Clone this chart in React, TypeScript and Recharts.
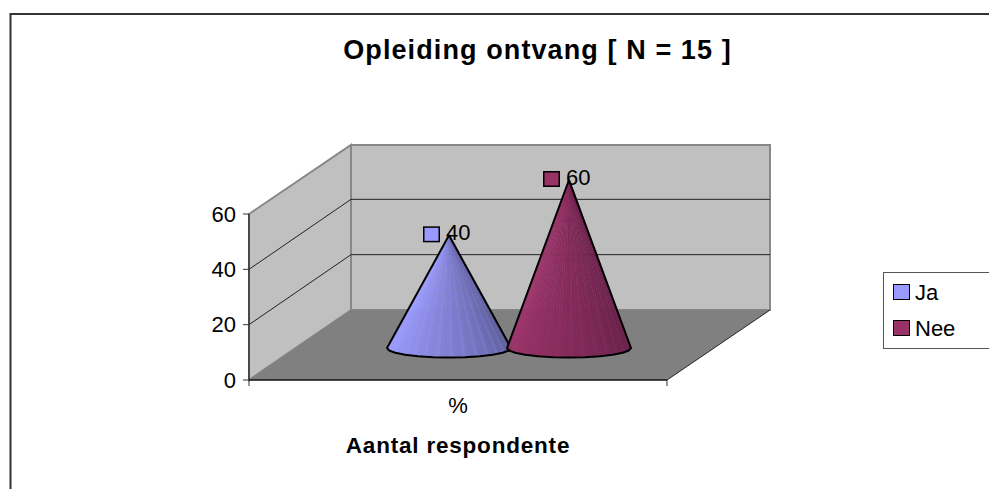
import { Bar, BarChart, CartesianGrid, LabelList, Legend, XAxis, YAxis } from "recharts";

const categories = ["%"];
const jaValues = [40];
const neeValues = [60];
const yTicks = [0, 20, 40, 60];
const seriesNames = ["Ja", "Nee"];

const chartData = categories.map((name, i) => ({
  name,
  Ja: jaValues[i],
  Nee: neeValues[i],
}));

const FONT = "'Liberation Sans', Arial, sans-serif";
const LEFT = 249;
const RIGHT = 667;
const TOP = 214;
const FLOOR = 380;
const DX = 102;
const DY = 70;

const BLUE = { key: [156, 156, 255], dark: [88, 88, 148] };
const RED = { key: [156, 52, 106], dark: [98, 30, 70] };

function mix(a: number[], b: number[], t: number) {
  const c = a.map((v, i) => Math.round(v + (b[i] - v) * t));
  return `rgb(${c[0]},${c[1]},${c[2]})`;
}

// cone sits half way into the box depth, drawn as a fan of thin slices
function Cone(props: any) {
  const { x, y, width, height, palette } = props;
  const cx = x + width / 2 + DX / 2;
  const apexY = y - DY / 2 + 1;
  const baseY = y + height - DY / 2 + 3;
  const rx = width / 2 + 2;
  const ry = 9.5;
  const steps = 44;
  const slices = [];
  for (let i = 0; i < steps; i++) {
    const a0 = Math.PI - (i / steps) * Math.PI;
    const a1 = Math.PI - ((i + 1) / steps) * Math.PI;
    const p0 = `${cx + rx * Math.cos(a0)},${baseY + ry * Math.sin(a0)}`;
    const p1 = `${cx + rx * Math.cos(a1)},${baseY + ry * Math.sin(a1)}`;
    const t = Math.max(0, (i / steps - 0.12) / 0.88);
    // every third slice a bit lighter, the faceted ribs of the 3D cone
    const color = i % 3 === 1 ? mix(palette.key, palette.dark, t * 0.85) : mix(palette.key, palette.dark, t);
    slices.push(
      <polygon key={i} points={`${cx},${apexY} ${p0} ${p1}`} fill={color} stroke={color} strokeWidth={0.5} />
    );
  }
  // the base edge is coarse in the original, so use few segments
  const edge = [];
  const edgeSteps = 12;
  for (let i = 0; i <= edgeSteps; i++) {
    const a = Math.PI - (i / edgeSteps) * Math.PI;
    edge.push(`${cx + rx * Math.cos(a)},${baseY + ry * Math.sin(a)}`);
  }
  return (
    <g>
      {slices}
      <polygon points={`${cx},${apexY} ${edge.join(" ")}`} fill="none" stroke="#000" strokeWidth={2} strokeLinejoin="round" />
    </g>
  );
}

function ConeLabel(props: any) {
  const { x, y, width, value, fill } = props;
  const cx = x + width / 2 + DX / 2;
  const apexY = y - DY / 2 + 1;
  return (
    <g>
      <rect x={cx - 25.25} y={apexY - 8.25} width={15.5} height={14.5} fill={fill} stroke="#000" strokeWidth={1.5} />
      <text x={cx - 3} y={apexY + 5} fontSize={22} fontFamily={FONT} fill="#000">
        {value}
      </text>
    </g>
  );
}

// only the 20 and 40 lines show, 0 and 60 sit on the box edges
function WallGridLine(props: any) {
  const { x1, x2, y1 } = props;
  if (Math.abs(y1 - FLOOR) < 1 || Math.abs(y1 - TOP) < 1) return <g />;
  return (
    <polyline
      points={`${x1},${y1} ${x1 + DX},${y1 - DY} ${x2 + DX + 1},${y1 - DY}`}
      fill="none"
      stroke="#222"
      strokeWidth={1}
    />
  );
}

function ChartBox() {
  return (
    <g>
      <polyline points="10.5,489 10.5,14 989,14" fill="none" stroke="#333" strokeWidth={2} />
      <polygon
        points={`${LEFT + DX},${TOP - DY + 1} ${RIGHT + DX + 1},${TOP - DY + 1} ${RIGHT + DX + 1},${FLOOR - DY} ${LEFT + DX},${FLOOR - DY}`}
        fill="#c0c0c0"
        stroke="#888"
        strokeWidth={2}
      />
      <polygon
        points={`${LEFT},${TOP} ${LEFT + DX},${TOP - DY + 1} ${LEFT + DX},${FLOOR - DY} ${LEFT},${FLOOR}`}
        fill="#c0c0c0"
        stroke="#888"
        strokeWidth={2}
      />
      <polygon
        points={`${LEFT},${FLOOR} ${RIGHT},${FLOOR} ${RIGHT + DX + 1},${FLOOR - DY} ${LEFT + DX},${FLOOR - DY}`}
        fill="#808080"
      />
      <line x1={RIGHT} y1={FLOOR} x2={RIGHT + DX + 1} y2={FLOOR - DY} stroke="#222" strokeWidth={1} />
      <line x1={LEFT} y1={FLOOR} x2={LEFT} y2={FLOOR + 6} stroke="#333" strokeWidth={1} />
      <line x1={RIGHT} y1={FLOOR} x2={RIGHT} y2={FLOOR + 6} stroke="#333" strokeWidth={1} />
    </g>
  );
}

function LegendBox() {
  const colors = ["#9999ff", "#993366"];
  return (
    <div
      style={{
        width: 106,
        height: 77,
        boxSizing: "border-box",
        border: "1px solid #555",
        borderRight: "none",
        background: "#fff",
        position: "relative",
        fontFamily: FONT,
        fontSize: 22,
        color: "#000",
      }}
    >
      {seriesNames.map((name, i) => (
        <div key={name} style={{ position: "absolute", left: 9, top: 11 + i * 36, height: 17, lineHeight: "17px", whiteSpace: "nowrap" }}>
          <span
            style={{
              display: "inline-block",
              boxSizing: "border-box",
              width: 17,
              height: 16,
              background: colors[i],
              border: "1.5px solid #000",
              verticalAlign: "top",
              marginRight: 5,
            }}
          />
          {name}
        </div>
      ))}
    </div>
  );
}

export default function App() {
  return (
    <div style={{ position: "fixed", left: 0, top: 0, width: 989, height: 489, background: "#fff" }}>
      <BarChart
        width={989}
        height={489}
        data={chartData}
        margin={{ top: TOP, right: 989 - RIGHT, bottom: 489 - FLOOR - 40, left: LEFT - 50 }}
        barSize={120}
        barGap={0}
      >
        <ChartBox />
        <CartesianGrid vertical={false} horizontal={WallGridLine as any} zIndex={10} />
        <XAxis
          dataKey="name"
          height={40}
          axisLine={{ stroke: "#111", strokeWidth: 1.5 }}
          tickLine={false}
          tickMargin={11}
          tick={{ fill: "#000", fontSize: 22, fontFamily: FONT }}
          label={{
            value: "Aantal respondente",
            position: "bottom",
            offset: 17,
            fill: "#000",
            fontSize: 22.5,
            fontWeight: 700,
            fontFamily: FONT,
            letterSpacing: 0.8,
          }}
        />
        <YAxis
          width={50}
          domain={[0, 60]}
          ticks={yTicks}
          axisLine={{ stroke: "#333", strokeWidth: 1.5 }}
          tickLine={{ stroke: "#333" }}
          tickSize={6}
          tickMargin={7}
          tick={{ fill: "#000", fontSize: 22, fontFamily: FONT }}
        />
        <Bar dataKey="Ja" isAnimationActive={false} shape={(p: any) => <Cone {...p} palette={BLUE} />}>
          <LabelList dataKey="Ja" content={(p: any) => <ConeLabel {...p} fill="#9999ff" />} />
        </Bar>
        <Bar dataKey="Nee" isAnimationActive={false} shape={(p: any) => <Cone {...p} palette={RED} />}>
          <LabelList dataKey="Nee" content={(p: any) => <ConeLabel {...p} fill="#993366" />} />
        </Bar>
        <Legend
          layout="vertical"
          align="center"
          verticalAlign="middle"
          content={() => <LegendBox />}
          wrapperStyle={{ left: 883, top: 272, width: 106 }}
        />
        <text x={537.5} y={58.5} textAnchor="middle" fontSize={27} fontWeight={700} fontFamily={FONT} letterSpacing={1.1} fill="#000">
          Opleiding ontvang [ N = 15 ]
        </text>
      </BarChart>
    </div>
  );
}
